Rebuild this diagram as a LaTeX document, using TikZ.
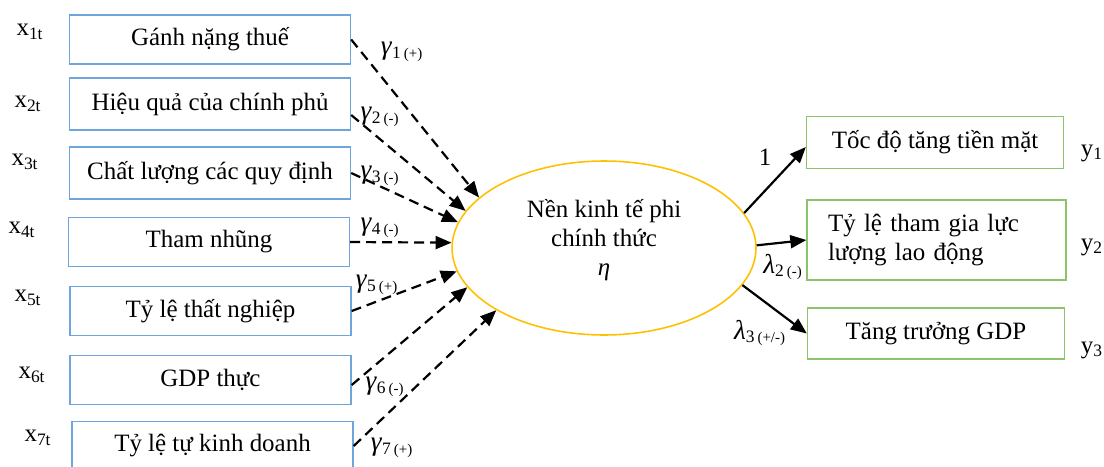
\documentclass[tikz,border=0pt]{standalone}
\usepackage{fontspec}
\setmainfont{Liberation Serif}
\usetikzlibrary{
  arrows.meta,
  positioning,
  calc,
  shapes.geometric
}
\definecolor{vienxanh}{RGB}{111,165,218}
\definecolor{vienluc}{RGB}{140,196,105}
\definecolor{vienvang}{RGB}{255,192,0}
\newcommand{\heso}[3]{{\fontsize{15.5}{16}\selectfont\textit{#1}}\textsubscript{#2\,{\fontsize{8.5}{9}\selectfont #3}}}
\newcommand{\bien}[2]{#1\textsubscript{#2}}

\begin{document}
\begin{tikzpicture}[
      x=0.02cm, y=-0.02cm,
      every node/.style={font=\fontsize{14.2}{16.5}\selectfont},
      nguyennhan/.style={draw=vienxanh, line width=0.8pt,
                    minimum width=5.62cm, minimum height=0.98cm, inner sep=2pt},
      chibao/.style={draw=vienluc, line width=0.8pt,
                    minimum width=5.14cm, minimum height=1.04cm, inner sep=2pt},
      tieman/.style={ellipse, draw=vienvang, line width=0.9pt,
                    minimum width=6.08cm, minimum height=3.48cm,
                    inner sep=0pt, align=center},
      netdut/.style={-{Triangle[length=0.32cm,width=0.26cm]}, line width=1.25pt,
                    dash pattern=on 0.2cm off 0.12cm},
      muiten/.style={-{Triangle[length=0.32cm,width=0.26cm]}, line width=1.25pt}
  ]
      \useasboundingbox (0,0) rectangle (1104,466);

      % Cac bien nguyen nhan
      \node[nguyennhan] (thue)    at (210,39.5) {Gánh nặng thuế};
      \node[nguyennhan, minimum height=1.04cm] (hieuqua) at (210,104) {Hiệu quả của chính phủ};
      \node[nguyennhan, minimum height=1.04cm] (quydinh) at (210,173) {Chất lượng các quy định};
      \node[nguyennhan] (thamnhung) at (209,242) {Tham nhũng};
      \node[nguyennhan] (thatnghiep) at (210.5,311) {Tỷ lệ thất nghiệp};
      \node[nguyennhan] (gdp)     at (210.5,380) {GDP thực};
      \node[nguyennhan] (tukd)    at (212.5,446) {Tỷ lệ tự kinh doanh};

      \node (x1) at (30,32)  {\bien{x}{1t}};
      \node (x2) at (28,104) {\bien{x}{2t}};
      \node (x3) at (25,162) {\bien{x}{3t}};
      \node (x4) at (22,230) {\bien{x}{4t}};
      \node (x5) at (28,298) {\bien{x}{5t}};
      \node (x6) at (32,375) {\bien{x}{6t}};
      \node (x7) at (38,438) {\bien{x}{7t}};

      % Bien tiem an
      \node[tieman] (eta) at (604,248) {Nền kinh tế phi\\chính thức\\\textit{η}\\[-5pt]};

      % Cac chi bao
      \node[chibao] (tienmat) at (935,142.5) {Tốc độ tăng tiền mặt};
      \node[chibao, minimum width=5.18cm, minimum height=1.6cm, text width=4.34cm,
            inner xsep=0.42cm, align=left] (laodong) at (936.5,240)
            {Tỷ lệ tham gia lực\\lượng lao động};
      \node[chibao, minimum height=1.02cm] (tangtruong) at (936,333.5) {Tăng trưởng GDP};

      \node (y1) at (1092,153) {\bien{y}{1}};
      \node (y2) at (1092,247) {\bien{y}{2}};
      \node (y3) at (1092,350) {\bien{y}{3}};

      % Mui ten nguyen nhan
      \draw[netdut] (thue.east) -- (eta.158.8);
      \draw[netdut] ([yshift=-0.22cm]hieuqua.east) -- (eta.165);
      \draw[netdut] (quydinh.east) -- (eta.170);
      \draw[netdut] (thamnhung.east) -- (eta.178);
      \draw[netdut] (thatnghiep.east) -- (eta.189);
      \draw[netdut] ([yshift=-0.1cm]gdp.east) -- (eta.196.6);
      \draw[netdut] (tukd.east) -- (eta.210);

      \node at (402,52)  {\heso{γ}{1}{(+)}};
      \node at (380,117) {\heso{γ}{2}{(-)}};
      \node at (380,176) {\heso{γ}{3}{(-)}};
      \node at (380,228) {\heso{γ}{4}{(-)}};
      \node at (377,285) {\heso{γ}{5}{(+)}};
      \node at (385,387) {\heso{γ}{6}{(-)}};
      \node at (392,448) {\heso{γ}{7}{(+)}};

      % Mui ten chi bao
      \draw[muiten] (eta.14) -- ([yshift=-0.09cm]tienmat.west);
      \draw[muiten] (eta.1) -- (laodong.west);
      \draw[muiten] (eta.345) -- (tangtruong.west);

      \node at (765,157) {1};
      \node at (783,267) {\heso{λ}{2}{(-)}};
      \node at (760,333) {\heso{λ}{3}{(+/-)}};
  \end{tikzpicture}
\end{document}
